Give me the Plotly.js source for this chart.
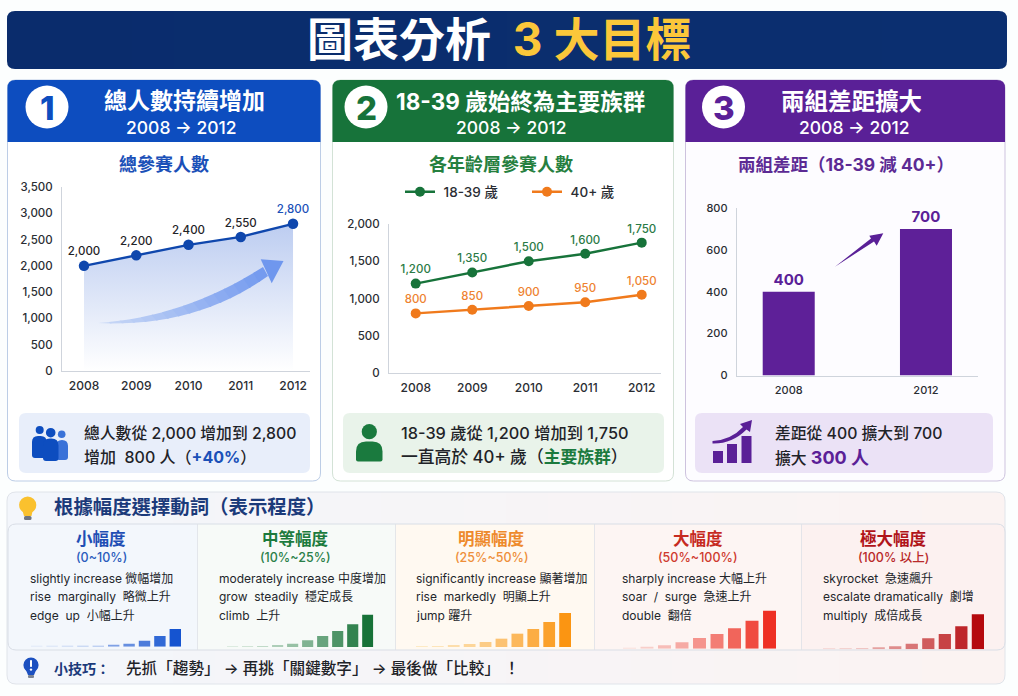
<!DOCTYPE html>
<html>
<head>
<meta charset="utf-8">
<script src="https://cdn.plot.ly/plotly-3.0.1.min.js"></script>
<style>
html, body { margin: 0; padding: 0; background: #fcfefe; }
#chart { width: 1018px; height: 696px; }
</style>
</head>
<body>
<div id="chart"></div>
<script>
// Data
const years = ['2008', '2009', '2010', '2011', '2012'];
const totalRunners = [2000, 2200, 2400, 2550, 2800];
const youngRunners = [1200, 1350, 1500, 1600, 1750];
const olderRunners = [800, 850, 900, 950, 1050];
const gapYears = ['2008', '2012'];
const gapValues = [400, 700];

// Small staircase bars at the bottom (arbitrary height units)
const smallSteps = [1, 1, 2, 2, 3, 5, 9, 18, 32, 53];
const mediumSteps = [1, 2, 3, 5, 10, 20, 33, 48, 68, 97];
const notableSteps = [1, 2, 4, 9, 15, 25, 40, 54, 75, 102];
const bigSteps = [1, 5, 10, 19, 32, 44, 61, 84, 114];
const extremeSteps = [1, 2, 3, 4, 9, 17, 33, 46, 69, 105];

const W = 1018, H = 696;
const CJK = '"Inter","Noto Sans CJK TC",sans-serif';

const BLUE = '#0d4dbf', GREEN = '#17733a', PURPLE = '#5a2097', ORANGE = '#f07a1c';
const NAVY = '#1b3a7a', INK = '#1f2328', AXIS = '#cfd4dc';

const fx = x => x / W;
const fy = y => 1 - y / H;
const shapes = [];
const annotations = [];

// helpers for the decoration, everything in pixels of the page
function roundPath(x0, y0, x1, y1, r) {
    const [tl, tr, br, bl] = Array.isArray(r) ? r : [r, r, r, r];
    const p = (x, y) => fx(x) + ',' + fy(y);
    return 'M' + p(x0 + tl, y0) + ' L' + p(x1 - tr, y0) + ' Q' + p(x1, y0) + ' ' + p(x1, y0 + tr) +
        ' L' + p(x1, y1 - br) + ' Q' + p(x1, y1) + ' ' + p(x1 - br, y1) +
        ' L' + p(x0 + bl, y1) + ' Q' + p(x0, y1) + ' ' + p(x0, y1 - bl) +
        ' L' + p(x0, y0 + tl) + ' Q' + p(x0, y0) + ' ' + p(x0 + tl, y0) + ' Z';
}

function box(x0, y0, x1, y1, r, fill, border, layer) {
    shapes.push({
        type: 'path', xref: 'paper', yref: 'paper', path: roundPath(x0, y0, x1, y1, r),
        fillcolor: fill, line: { color: border || fill, width: border ? 1 : 0 }, layer: layer || 'below'
    });
}

function poly(path, fill, layer, opacity) {
    const d = path.map(c => typeof c === 'string' ? c : fx(c[0]) + ',' + fy(c[1])).join(' ');
    shapes.push({
        type: 'path', xref: 'paper', yref: 'paper', path: d + ' Z',
        fillcolor: fill, line: { width: 0 }, layer: layer || 'below', opacity: opacity === undefined ? 1 : opacity
    });
}

function disc(cx, cy, r, fill) {
    shapes.push({
        type: 'circle', xref: 'paper', yref: 'paper', x0: fx(cx - r), x1: fx(cx + r), y0: fy(cy + r), y1: fy(cy - r),
        fillcolor: fill, line: { width: 0 }, layer: 'below'
    });
}

function label(x, y, text, size, color, weight, anchor) {
    // left anchored annotations carry a little padding
    const px = anchor === 'left' ? x - 2.5 : x;
    annotations.push({
        xref: 'paper', yref: 'paper', x: fx(px), y: fy(y), text: text, showarrow: false,
        xanchor: anchor || 'center', yanchor: 'middle',
        font: { family: CJK, size: size, color: color, weight: weight || 400 }
    });
}

function mixHex(a, b, t) {
    const pa = [1, 3, 5].map(i => parseInt(a.substr(i, 2), 16));
    const pb = [1, 3, 5].map(i => parseInt(b.substr(i, 2), 16));
    return 'rgb(' + pa.map((v, i) => Math.round(v + (pb[i] - v) * t)).join(',') + ')';
}

// horizontal gradient band made of strips, rounded only at the outer ends
function band(x0, x1, y0, y1, c0, c1, rTop, rBottom) {
    const n = 24;
    for (let i = 0; i < n; i++) {
        const a = Math.round(x0 + (x1 - x0) * i / n);
        const b = Math.round(x0 + (x1 - x0) * (i + 1) / n);
        const r = [i === 0 ? rTop : 0, i === n - 1 ? rTop : 0, i === n - 1 ? rBottom : 0, i === 0 ? rBottom : 0];
        box(a, y0, b + (i < n - 1 ? 0.6 : 0), y1, r, mixHex(c0, c1, i / (n - 1)));
    }
}

// Title banner
band(7, 1007, 11, 69, '#0a2c6c', '#0b2f70', 8, 8);
label(499, 39, '圖表分析\u00a0\u00a0<span style="color:#fbc73a">3 大目標</span>', 46, '#ffffff', 700);

// Three panels
const panels = [
    { x0: 7.5, x1: 320.5, color: BLUE, border: '#bccde6', body: '#ffffff', cx: 47, num: '1', title: '總人數持續增加', tx: 184, ts: 23, sx: 181, chart: '總參賽人數', chx: 164, chc: '#1a50b8', chs: 18 },
    { x0: 332.5, x1: 673.5, color: GREEN, border: '#d3e2d6', body: '#ffffff', cx: 366, num: '2', title: '18-39 歲始終為主要族群', tx: 520, ts: 22.5, sx: 512, chart: '各年齡層參賽人數', chx: 501, chc: '#26803f', chs: 18 },
    { x0: 685.5, x1: 1005, color: PURPLE, border: '#cdc3de', body: '#fdfcff', cx: 723.5, num: '3', title: '兩組差距擴大', tx: 851, ts: 23.5, sx: 854, chart: '兩組差距（18-39 減 40+）', chx: 846, chc: '#5c2a94', chs: 17.5 }
];
panels.forEach(p => {
    box(p.x0, 80, p.x1, 481, 8, p.body, p.border);
    box(p.x0, 80, p.x1, 142, [8, 8, 0, 0], p.color);
    disc(p.cx, 107, 21.5, '#ffffff');
    label(p.cx, 108, p.num, 33, p.color, 800);
    label(p.tx, 101, p.title, p.ts, '#ffffff', 700);
    label(p.sx, 127, '2008 → 2012', 17.5, '#ffffff', 500);
    label(p.chx, 164, p.chart, p.chs, p.chc, 700);
});

// Summary boxes under the charts
box(19, 413, 310, 473, 7, '#e8eefa');
box(343, 413, 664, 473, 7, '#e9f3ea');
box(695, 413, 993, 473, 7, '#ebe2f6');
label(84, 433, '總人數從 2,000 增加到 2,800', 15.8, INK, 500, 'left');
label(84, 457, '增加\u00a0\u00a0800 人（<b><span style="color:#1a50b8">+40%</span></b>）', 16, INK, 500, 'left');
label(401, 433, '18-39 歲從 1,200 增加到 1,750', 16.3, INK, 500, 'left');
label(401, 457, '一直高於 40+ 歲（<b><span style="color:#1b7a3e">主要族群</span></b>）', 16.8, INK, 500, 'left');
label(775, 433, '差距從 400 擴大到 700', 15.8, INK, 500, 'left');
label(775, 457, '擴大 <b><span style="color:#5a2097;font-size:18px">300 人</span></b>', 15.8, INK, 500, 'left');

// People icon, panel 1
disc(39.7, 430, 4, BLUE);
box(32, 436, 46.7, 458, [6, 6, 3, 3], BLUE);
disc(61.7, 434.3, 3.8, '#3a72d8');
box(56, 440, 68, 460, [6, 6, 3, 3], '#3a72d8');
disc(50.7, 432.7, 4.8, BLUE);
box(43, 438.5, 58.5, 461, [7, 7, 3, 3], BLUE);

// Person icon, panel 2
disc(369.3, 431.7, 7.6, '#1a7a3e');
box(356, 441.5, 382.5, 461.5, [10, 10, 2, 2], '#1a7a3e');

// Bars and arrow icon, panel 3
box(713, 451, 723, 463, 0, PURPLE);
box(727, 444, 737, 463, 0, PURPLE);
box(741.5, 436, 751.5, 463, 0, PURPLE);
poly(['M', [712.5, 441], 'Q', [731, 440], [743, 427], 'L', [740, 424], 'L', [752, 420], 'L', [750, 432], 'L', [746.5, 429.5], 'Q', [732, 444], [712.5, 443.5]], PURPLE);

// Big soft arrow inside chart 1, strips so it fades towards the tail
(function () {
    const q = (a, b, c, t) => [
        (1 - t) * (1 - t) * a[0] + 2 * t * (1 - t) * b[0] + t * t * c[0],
        (1 - t) * (1 - t) * a[1] + 2 * t * (1 - t) * b[1] + t * t * c[1]
    ];
    const n = 16;
    for (let i = 0; i < n; i++) {
        const t0 = i / n, t1 = (i + 1.15) / n > 1 ? 1 : (i + 1.15) / n;
        const top0 = q([98, 323], [185, 317], [263, 267], t0), top1 = q([98, 323], [185, 317], [263, 267], t1);
        const bot0 = q([98, 323], [195, 328], [268, 276], t0), bot1 = q([98, 323], [195, 328], [268, 276], t1);
        poly(['M', top0, 'L', top1, 'L', bot1, 'L', bot0], mixHex('#c9d8f6', '#6f97ee', t0), 'above');
    }
    poly(['M', [260.7, 259.3], 'L', [283.5, 261], 'L', [271.7, 283.3]], '#6f97ee', 'above');
})();

// Purple arrow inside chart 3
poly(['M', [835, 266.7], 'L', [871, 238.5], 'L', [869.3, 235.7], 'L', [883.3, 233.3], 'L', [876.7, 245.7], 'L', [874, 241.5]], PURPLE, 'above');

// Bottom panel
band(7, 1005, 492, 684, '#f3f6fb', '#fbf3f2', 9, 9);
box(7, 492, 1005, 684, 9, 'rgba(0,0,0,0)', '#e0e4ea');
box(8, 524, 197, 650, [8, 0, 0, 8], '#f3f7fc');
box(197, 524, 395, 650, 0, '#f7faf8');
box(395, 524, 594, 650, 0, '#fff9f1');
box(594, 524, 801, 650, 0, '#fdf5f3');
box(801, 524, 1005, 650, [0, 8, 8, 0], '#fcf1f0');
box(8, 524, 1005, 650, 8, 'rgba(0,0,0,0)', '#d9dee6');
[197, 395, 594, 801].forEach(x => box(x, 524, x + 0.8, 650, 0, '#dde1e8'));

// Light bulbs
disc(27.7, 505, 8.6, '#fac12e');
poly(['M', [22, 509], 'L', [33, 509], 'L', [31.5, 516], 'L', [24, 516]], '#fac12e');
box(24, 516, 31.5, 520, 1.5, '#6f7580');
disc(31, 665, 7.6, '#1c50c0');
poly(['M', [25.5, 669], 'L', [36.5, 669], 'L', [34, 675], 'L', [28, 675]], '#1c50c0');
box(28, 675, 34, 678, 1, '#7b8494');
box(30, 660, 32, 667, 0.8, '#ffffff');
disc(31, 669.6, 1.2, '#ffffff');

label(54, 507, '根據幅度選擇動詞（表示程度）', 19.4, NAVY, 700, 'left');
label(54, 668, '小技巧：', 14, NAVY, 700, 'left');
label(126, 668, '先抓「趨勢」 → 再挑「關鍵數字」 → 最後做「比較」 ！', 15.6, INK, 500, 'left');

const columns = [
    { cx: 101, head: '小幅度', range: '(0~10%)', color: '#1f4eb4', sub: '#2a5cbc', lx: 30.7, lines: ['slightly increase 微幅增加', 'rise  marginally  略微上升', 'edge  up  小幅上升'] },
    { cx: 295, head: '中等幅度', range: '(10%~25%)', color: '#1c7a3d', sub: '#2a8049', lx: 219.7, lines: ['moderately increase 中度增加', 'grow  steadily  穩定成長', 'climb  上升'] },
    { cx: 491.7, head: '明顯幅度', range: '(25%~50%)', color: '#ee8a2c', sub: '#ee8f3a', lx: 416, lines: ['significantly increase 顯著增加', 'rise  markedly  明顯上升', 'jump 躍升'] },
    { cx: 698, head: '大幅度', range: '(50%~100%)', color: '#c62a1f', sub: '#cf3a2e', lx: 622.3, lines: ['sharply increase 大幅上升', 'soar  /  surge  急速上升', 'double  翻倍'] },
    { cx: 893.7, head: '極大幅度', range: '(100% 以上)', color: '#b01419', sub: '#b92a2a', lx: 823, lines: ['skyrocket  急速飆升', 'escalate dramatically  劇增', 'multiply  成倍成長'] }
];
columns.forEach(c => {
    label(c.cx, 539, c.head, 16.5, c.color, 700);
    label(c.cx, 557.7, c.range, 12.5, c.sub, 500);
    c.lines.forEach((t, i) => {
        label(c.lx, 578.3 + i * 18.4, t.replace(/ {2}/g, '\u00a0\u00a0'), 12, '#23262b', 400, 'left');
    });
});

const tickFont = { family: CJK, size: 12, color: '#2a2d33', weight: 500 };
const valueFont = Object.assign({}, tickFont, { size: 11.5 });

function plainAxis(extra) {
    return Object.assign({
        showgrid: false, zeroline: false, showline: true, linecolor: AXIS, linewidth: 1,
        ticks: 'outside', ticklen: 6, tickcolor: 'rgba(0,0,0,0)', tickfont: valueFont, fixedrange: true
    }, extra);
}

const traces = [
    {
        x: years, y: totalRunners, xaxis: 'x', yaxis: 'y', type: 'scatter', mode: 'lines+markers+text',
        fill: 'tozeroy',
        fillgradient: { type: 'vertical', colorscale: [[0, 'rgba(70,115,215,0.0)'], [1, 'rgba(70,115,215,0.36)']] },
        line: { color: '#0f47ad', width: 2.4 }, marker: { color: '#0f47ad', size: 10.5 },
        texttemplate: '%{y:,}', textposition: 'top center',
        textfont: { family: CJK, size: 11.5, color: [INK, INK, INK, INK, '#1a50b8'], weight: 500 },
        showlegend: false, cliponaxis: false, hoverinfo: 'x+y'
    },
    {
        x: years, y: youngRunners, xaxis: 'x2', yaxis: 'y2', type: 'scatter', mode: 'lines+markers+text', name: '\u00a018-39 歲',
        line: { color: GREEN, width: 2.4 }, marker: { color: GREEN, size: 10 },
        texttemplate: '%{y:,}', textposition: 'top center',
        textfont: { family: CJK, size: 11.5, color: '#2a7a45', weight: 500 }, cliponaxis: false
    },
    {
        x: years, y: olderRunners, xaxis: 'x2', yaxis: 'y2', type: 'scatter', mode: 'lines+markers+text', name: '\u00a040+ 歲',
        line: { color: ORANGE, width: 2.4 }, marker: { color: ORANGE, size: 10 },
        texttemplate: '%{y:,}', textposition: 'top center',
        textfont: { family: CJK, size: 11.5, color: '#ee8230', weight: 500 }, cliponaxis: false
    },
    {
        x: gapYears, y: gapValues, xaxis: 'x3', yaxis: 'y3', type: 'bar', width: 0.379,
        marker: { color: '#5e2098' }, texttemplate: '%{y}', textposition: 'outside',
        textfont: { family: CJK, size: 15, color: '#5a2097', weight: 700 },
        showlegend: false, cliponaxis: false
    }
];

const layout = {
    width: W, height: H, autosize: false,
    margin: { l: 0, r: 0, t: 0, b: 0 },
    paper_bgcolor: '#fcfefe', plot_bgcolor: 'rgba(0,0,0,0)',
    font: { family: CJK, color: INK },
    showlegend: true,
    legend: {
        orientation: 'h', x: fx(400), y: fy(192), xanchor: 'left', yanchor: 'middle',
        bgcolor: 'rgba(0,0,0,0)', font: { family: CJK, size: 13.5, color: '#2a2d33', weight: 500 },
        entrywidth: 82, entrywidthmode: 'pixels', itemclick: false, itemdoubleclick: false
    },
    xaxis: plainAxis({ type: 'category', domain: [fx(62), fx(310)], range: [-0.421, 4.325], anchor: 'y', categoryorder: 'array', categoryarray: years, ticklen: 4, tickfont: tickFont }),
    yaxis: plainAxis({ domain: [fy(371), fy(187)], range: [0, 3500], dtick: 500, tickformat: ',', anchor: 'x' }),
    xaxis2: plainAxis({ type: 'category', domain: [fx(389), fx(660.7)], range: [-0.473, 4.336], anchor: 'y2', categoryorder: 'array', categoryarray: years, ticklen: 4, tickfont: tickFont }),
    yaxis2: plainAxis({ domain: [fy(373), fy(224)], range: [0, 2000], dtick: 500, tickformat: ',', anchor: 'x2' }),
    xaxis3: plainAxis({ type: 'category', domain: [fx(736.7), fx(978)], range: [-0.379, 1.379], anchor: 'y3', ticklen: 4, tickfont: Object.assign({}, tickFont, { size: 11 }) }),
    yaxis3: plainAxis({ domain: [fy(375.5), fy(208)], range: [0, 800], dtick: 200, anchor: 'x3', tickfont: Object.assign({}, tickFont, { size: 11 }) }),
    shapes: shapes,
    annotations: annotations
};

// Staircase bars, one pair of hidden axes each
const minis = [
    { v: smallSteps, x0: 31, x1: 181, base: 646.7, pale: '#dbe5f7', deep: '#1554d0' },
    { v: mediumSteps, x0: 227, x1: 373.3, base: 647, pale: '#dcebe0', deep: '#177238' },
    { v: notableSteps, x0: 416, x1: 571, base: 647, pale: '#fdeac4', deep: '#fb9512' },
    { v: bigSteps, x0: 623, x1: 776, base: 648.7, pale: '#f9d9d5', deep: '#ee3024' },
    { v: extremeSteps, x0: 823, x1: 984, base: 649.3, pale: '#f6d2d0', deep: '#b50a0e' }
];
minis.forEach((m, k) => {
    const id = k + 4;
    const n = m.v.length;
    const idx = m.v.map((_, i) => i);
    const bar = 0.74;
    traces.push({
        x: idx, y: m.v, xaxis: 'x' + id, yaxis: 'y' + id, type: 'bar', width: bar,
        marker: { color: idx.map(i => mixHex(m.pale, m.deep, Math.pow(i / (n - 1), 1.3))) },
        showlegend: false, hoverinfo: 'skip'
    });
    layout['xaxis' + id] = {
        domain: [fx(m.x0), fx(m.x1)], range: [-bar / 2, n - 1 + bar / 2], visible: false,
        anchor: 'y' + id, fixedrange: true
    };
    layout['yaxis' + id] = {
        domain: [fy(m.base), fy(m.base - 45)], range: [0, 135], visible: false,
        anchor: 'x' + id, fixedrange: true
    };
});

Plotly.newPlot('chart', traces, layout, { displayModeBar: false, responsive: false });
</script>
</body>
</html>
